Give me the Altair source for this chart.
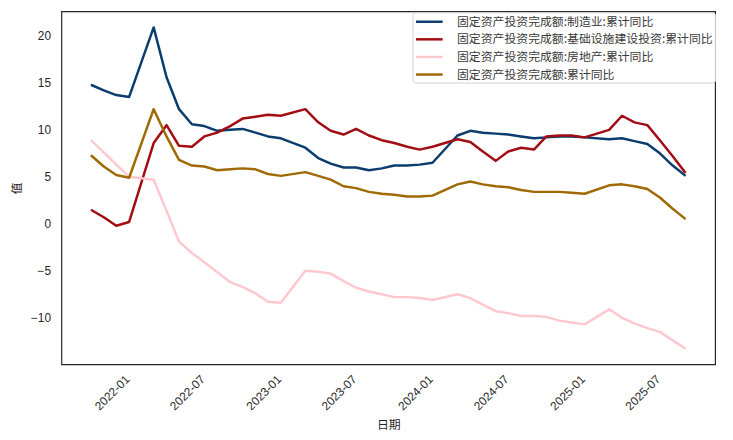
import altair as alt
import pandas as pd

# month-end dates of each observation (January has no separate release)
months = [
    "2021-09-30", "2021-10-31", "2021-11-30", "2021-12-31",
    "2022-02-28", "2022-03-31", "2022-04-30", "2022-05-31", "2022-06-30", "2022-07-31",
    "2022-08-31", "2022-09-30", "2022-10-31", "2022-11-30", "2022-12-31",
    "2023-02-28", "2023-03-31", "2023-04-30", "2023-05-31", "2023-06-30", "2023-07-31",
    "2023-08-31", "2023-09-30", "2023-10-31", "2023-11-30", "2023-12-31",
    "2024-02-29", "2024-03-31", "2024-04-30", "2024-05-31", "2024-06-30", "2024-07-31",
    "2024-08-31", "2024-09-30", "2024-10-31", "2024-11-30", "2024-12-31",
    "2025-02-28", "2025-03-31", "2025-04-30", "2025-05-31", "2025-06-30", "2025-07-31",
    "2025-08-31",
]

manufacturing = [
    14.8, 14.2, 13.7, 13.5,
    20.9, 15.6, 12.2, 10.6, 10.4, 9.9, 10.0, 10.1, 9.7, 9.3, 9.1,
    8.1, 7.0, 6.4, 6.0, 6.0, 5.7, 5.9, 6.2, 6.2, 6.3, 6.5,
    9.4, 9.9, 9.7, 9.6, 9.5, 9.3, 9.1, 9.2, 9.3, 9.3, 9.2,
    9.0, 9.1, 8.8, 8.5, 7.5, 6.2, 5.1,
]

infrastructure = [
    1.5, 0.7, -0.2, 0.2,
    8.6, 10.5, 8.3, 8.2, 9.3, 9.7, 10.4, 11.2, 11.4, 11.6, 11.5,
    12.2, 10.8, 9.9, 9.5, 10.1, 9.4, 8.9, 8.6, 8.2, 7.9, 8.2,
    9.0, 8.7, 7.7, 6.7, 7.7, 8.1, 7.9, 9.3, 9.4, 9.4, 9.2,
    10.0, 11.5, 10.8, 10.5, 8.9, 7.2, 5.4,
]

real_estate = [
    8.9, 7.6, 6.3, 5.0,
    4.7, 1.4, -1.9, -3.1, -4.1, -5.15, -6.2, -6.7, -7.4, -8.3, -8.4,
    -5.0, -5.1, -5.3, -6.1, -6.8, -7.2, -7.5, -7.8, -7.8, -7.9, -8.1,
    -7.5, -7.9, -8.6, -9.3, -9.5, -9.8, -9.8, -9.9, -10.3, -10.5, -10.7,
    -9.1, -10.0, -10.6, -11.1, -11.5, -12.4, -13.3,
]

total = [
    7.3, 6.1, 5.2, 4.9,
    12.2, 9.3, 6.8, 6.2, 6.1, 5.7, 5.8, 5.9, 5.8, 5.3, 5.1,
    5.5, 5.1, 4.7, 4.0, 3.8, 3.4, 3.2, 3.1, 2.9, 2.9, 3.0,
    4.2, 4.5, 4.2, 4.0, 3.9, 3.6, 3.4, 3.4, 3.4, 3.3, 3.2,
    4.1, 4.2, 4.0, 3.7, 2.8, 1.6, 0.5,
]

series_names = [
    "固定资产投资完成额:制造业:累计同比",
    "固定资产投资完成额:基础设施建设投资:累计同比",
    "固定资产投资完成额:房地产:累计同比",
    "固定资产投资完成额:累计同比",
]
series_colors = ["#0a3d6e", "#a10d13", "#ffc8ce", "#9f6a03"]

tick_years_months = [(2022, 1), (2022, 7), (2023, 1), (2023, 7),
                     (2024, 1), (2024, 7), (2025, 1), (2025, 7)]
y_ticks = [-10, -5, 0, 5, 10, 15, 20]

rows = []
for name, vals in zip(series_names, [manufacturing, infrastructure, real_estate, total]):
    for d, v in zip(months, vals):
        rows.append({"日期": d + "T00:00:00", "值": v, "系列": name})
df = pd.DataFrame(rows)

x_values = [alt.DateTime(year=y, month=m, date=1) for y, m in tick_years_months]

label_font = "Liberation Sans"
cjk_font = "Noto Sans CJK SC"
text_color = "#262626"

chart = (
    alt.Chart(df)
    .mark_line(strokeWidth=2.5, strokeJoin="round", strokeCap="butt")
    .encode(
        x=alt.X(
            "日期:T",
            scale=alt.Scale(
                domain=[alt.DateTime(year=2021, month=7, date=21),
                        alt.DateTime(year=2025, month=11, date=10)],
                nice=False,
            ),
            axis=alt.Axis(
                values=x_values,
                format="%Y-%m",
                labelAngle=-45,
                labelAlign="right",
                labelBaseline="top",
                labelPadding=9,
                labelOffset=-6,
                labelFont=label_font,
                labelFontSize=12,
                labelColor=text_color,
                grid=False,
                domain=False,
                ticks=False,
                title="日期",
                titleFont=cjk_font,
                titleFontSize=12,
                titleFontWeight="normal",
                titleColor=text_color,
                titlePadding=8,
            ),
        ),
        y=alt.Y(
            "值:Q",
            scale=alt.Scale(domain=[-14.96, 22.61], nice=False, zero=False),
            axis=alt.Axis(
                values=y_ticks,
                labelFont=label_font,
                labelFontSize=12,
                labelColor=text_color,
                labelPadding=11,
                grid=False,
                domain=False,
                ticks=False,
                title="值",
                titleFont=cjk_font,
                titleFontSize=12,
                titleFontWeight="normal",
                titleColor=text_color,
                titlePadding=7,
            ),
        ),
        color=alt.Color(
            "系列:N",
            scale=alt.Scale(domain=series_names, range=series_colors),
            legend=alt.Legend(
                title=None,
                orient="none",
                legendX=355,
                legendY=1,
                symbolType="M-2.25,0L2.25,0",
                symbolSize=144,
                symbolStrokeWidth=2.5,
                symbolOffset=7.5,
                labelOffset=20.5,
                labelFont=cjk_font,
                labelFontSize=12,
                labelColor="#3a3a3a",
                labelLimit=500,
                rowPadding=3.8,
                padding=2,
                strokeColor="#d0d0d0",
                fillColor="rgba(255,255,255,0.85)",
                cornerRadius=3,
            ),
        ),
        order=alt.Order("日期:T"),
    )
    .properties(
        width=661,
        height=357,
        background="white",
        autosize=alt.AutoSizeParams(type="none"),
        padding={"left": 54, "top": 1, "right": 10, "bottom": 70},
    )
    .configure_view(stroke="#262626", strokeWidth=1.2)
)

chart.save("out.html", embed_options={"renderer": "svg", "actions": False})
